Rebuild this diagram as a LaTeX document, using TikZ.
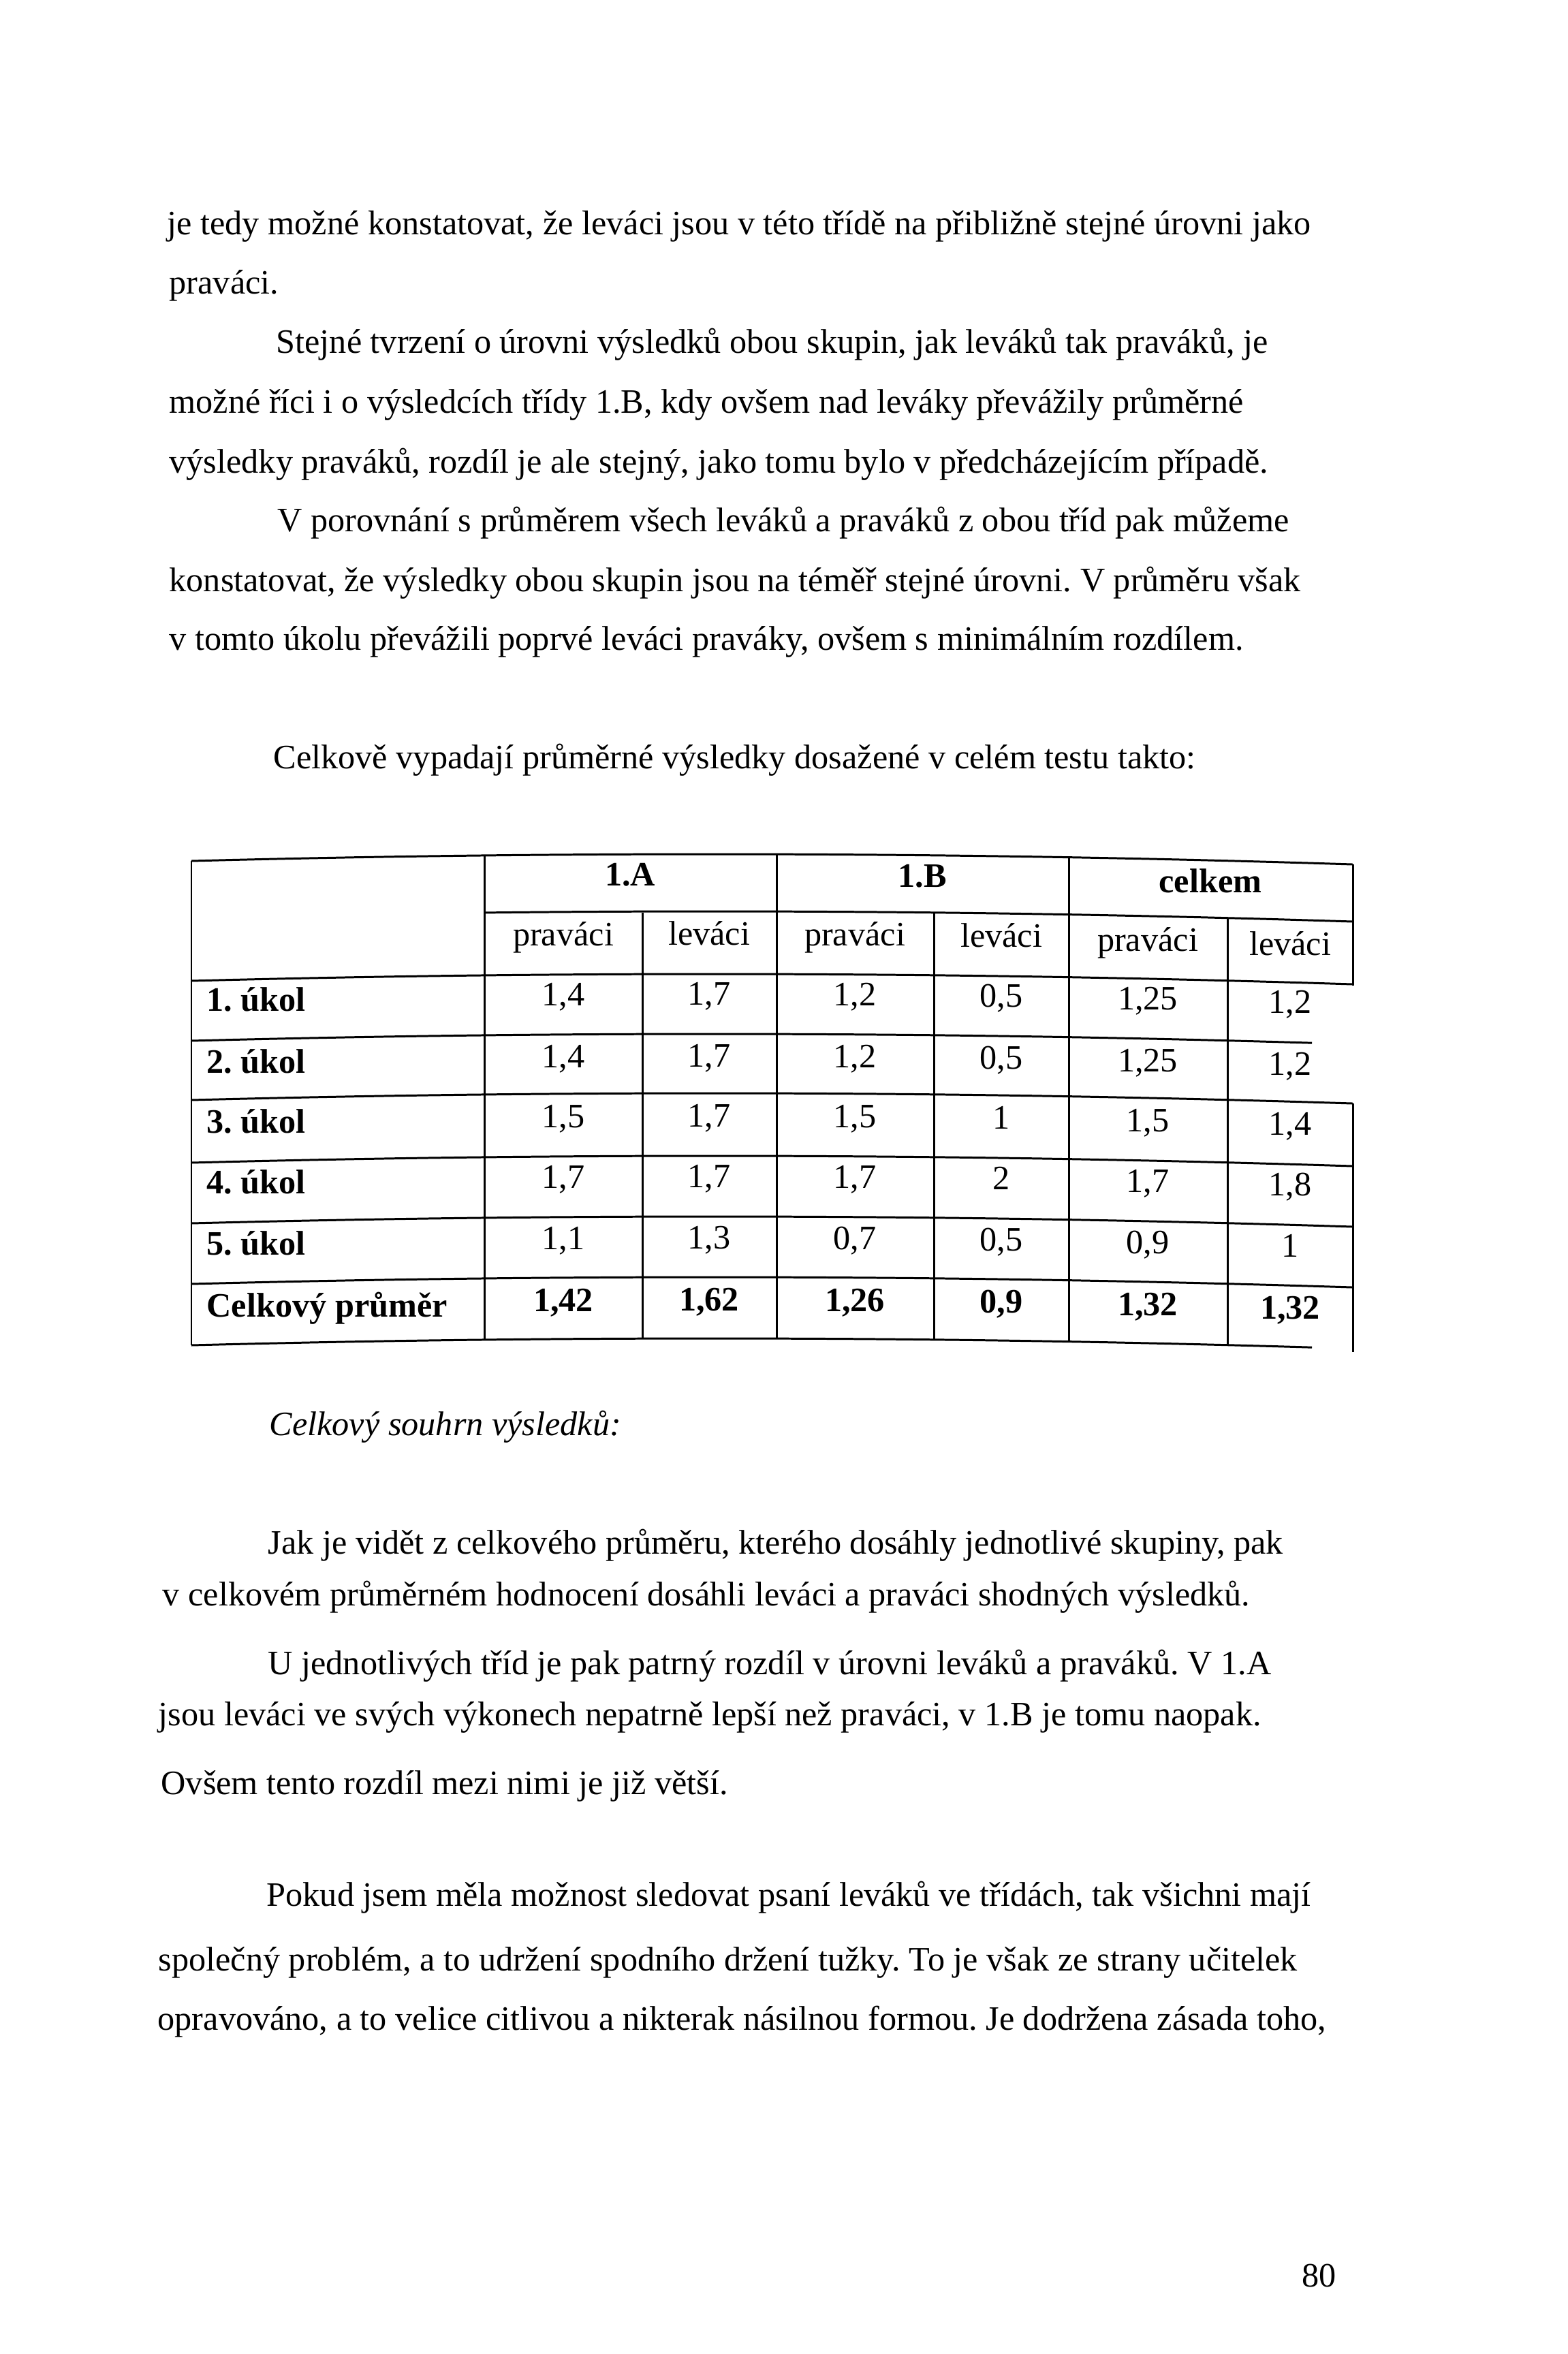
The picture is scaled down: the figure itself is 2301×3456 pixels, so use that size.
\documentclass[tikz,border=0pt]{standalone}
\usepackage{fontspec}
\setmainfont{Liberation Serif}
\frenchspacing
\def\bodyfont{\fontsize{14.3}{17}\selectfont}
\tikzset{
	txt/.style={anchor=base west, inner sep=0pt, font=\bodyfont},
	num/.style={anchor=base, inner sep=0pt, font=\bodyfont},
	bnum/.style={anchor=base, inner sep=0pt, font=\bodyfont\bfseries},
	blab/.style={anchor=base west, inner sep=0pt, font=\bodyfont\bfseries},
	tline/.style={line width=0.85pt}
}
\def\tabline(#1:#2:#3){\draw[tline] plot[domain=#1:#2,samples=30] (\x,{#3+10*((\x-1047)/766)^2});}

\begin{document}
\begin{tikzpicture}[x=0.1mm, y=-0.1mm]
			%%%%% START %%%%%
			
			\fill[white] (0, 0) rectangle (2301, 3456);
			\useasboundingbox (0, 0) rectangle (2301, 3456);
			
			\node[txt] (l1) at (245, 345) {je tedy možné konstatovat, že leváci jsou v této třídě na přibližně stejné úrovni jako};
			\node[txt] (l2) at (248, 432) {praváci.};
			\node[txt] (l3) at (405, 519) {Stejné tvrzení o úrovni výsledků obou skupin, jak leváků tak praváků, je};
			\node[txt] (l4) at (248, 607) {možné říci i o výsledcích třídy 1.B, kdy ovšem nad leváky převážily průměrné};
			\node[txt] (l5) at (248, 695) {výsledky praváků, rozdíl je ale stejný, jako tomu bylo v předcházejícím případě.};
			\node[txt] (l6) at (407, 781) {V porovnání s průměrem všech leváků a praváků z obou tříd pak můžeme};
			\node[txt] (l7) at (248, 868) {konstatovat, že výsledky obou skupin jsou na téměř stejné úrovni. V průměru však};
			\node[txt] (l8) at (248, 954) {v tomto úkolu převážili poprvé leváci praváky, ovšem s minimálním rozdílem.};
			
			\node[txt] (l9) at (401, 1128) {Celkově vypadají průměrné výsledky dosažené v celém testu takto:};
			
			% table rules
			\tabline(281:1986:1254);
			\tabline(711:1986:1338);
			\tabline(281:1986:1430);
			\tabline(281:1926:1518);
			\tabline(281:1986:1605);
			\tabline(281:1986:1697);
			\tabline(281:1986:1786);
			\tabline(281:1986:1875);
			\tabline(281:1926:1965);
			
			\draw[tline] (281, 1264) -- (281, 1975);
			\draw[tline] (711, 1256) -- (711, 1967);
			\draw[tline] (943, 1340) -- (943, 1965);
			\draw[tline] (1140, 1254) -- (1140, 1965);
			\draw[tline] (1371, 1340) -- (1371, 1967);
			\draw[tline] (1569, 1259) -- (1569, 1970);
			\draw[tline] (1802, 1348) -- (1802, 1975);
			\draw[tline] (1986, 1269) -- (1986, 1447);
			\draw[tline] (1986, 1620) -- (1986, 1985);
			
			% table head
			\node[bnum] (hA) at (925, 1300) {1.A};
			\node[bnum] (hB) at (1354, 1302) {1.B};
			\node[bnum] (hC) at (1777, 1310) {celkem};
			
			\node[num] (s1) at (827, 1388) {praváci};
			\node[num] (s2) at (1041, 1387) {leváci};
			\node[num] (s3) at (1255, 1388) {praváci};
			\node[num] (s4) at (1470, 1390) {leváci};
			\node[num] (s5) at (1685, 1396) {praváci};
			\node[num] (s6) at (1894, 1402) {leváci};
			
			% table body
			\node[blab] (r1) at (303, 1484) {1. úkol};
			\node[num] (r1a) at (827, 1476) {1,4};
			\node[num] (r1b) at (1041, 1475) {1,7};
			\node[num] (r1c) at (1255, 1476) {1,2};
			\node[num] (r1d) at (1470, 1478) {0,5};
			\node[num] (r1e) at (1685, 1482) {1,25};
			\node[num] (r1f) at (1894, 1487) {1,2};
			
			\node[blab] (r2) at (303, 1575) {2. úkol};
			\node[num] (r2a) at (827, 1567) {1,4};
			\node[num] (r2b) at (1041, 1566) {1,7};
			\node[num] (r2c) at (1255, 1567) {1,2};
			\node[num] (r2d) at (1470, 1569) {0,5};
			\node[num] (r2e) at (1685, 1573) {1,25};
			\node[num] (r2f) at (1894, 1578) {1,2};
			
			\node[blab] (r3) at (303, 1663) {3. úkol};
			\node[num] (r3a) at (827, 1655) {1,5};
			\node[num] (r3b) at (1041, 1654) {1,7};
			\node[num] (r3c) at (1255, 1655) {1,5};
			\node[num] (r3d) at (1470, 1657) {1};
			\node[num] (r3e) at (1685, 1661) {1,5};
			\node[num] (r3f) at (1894, 1666) {1,4};
			
			\node[blab] (r4) at (303, 1752) {4. úkol};
			\node[num] (r4a) at (827, 1744) {1,7};
			\node[num] (r4b) at (1041, 1743) {1,7};
			\node[num] (r4c) at (1255, 1744) {1,7};
			\node[num] (r4d) at (1470, 1746) {2};
			\node[num] (r4e) at (1685, 1750) {1,7};
			\node[num] (r4f) at (1894, 1755) {1,8};
			
			\node[blab] (r5) at (303, 1842) {5. úkol};
			\node[num] (r5a) at (827, 1834) {1,1};
			\node[num] (r5b) at (1041, 1833) {1,3};
			\node[num] (r5c) at (1255, 1834) {0,7};
			\node[num] (r5d) at (1470, 1836) {0,5};
			\node[num] (r5e) at (1685, 1840) {0,9};
			\node[num] (r5f) at (1894, 1845) {1};
			
			\node[blab] (r6) at (303, 1933) {Celkový průměr};
			\node[bnum] (r6a) at (827, 1925) {1,42};
			\node[bnum] (r6b) at (1041, 1924) {1,62};
			\node[bnum] (r6c) at (1255, 1925) {1,26};
			\node[bnum] (r6d) at (1470, 1927) {0,9};
			\node[bnum] (r6e) at (1685, 1931) {1,32};
			\node[bnum] (r6f) at (1894, 1936) {1,32};
			
			\node[txt, font=\bodyfont\itshape] (l10) at (395, 2107) {Celkový souhrn výsledků:};
			
			\node[txt] (l11) at (393, 2281) {Jak je vidět z celkového průměru, kterého dosáhly jednotlivé skupiny, pak};
			\node[txt] (l12) at (238, 2357) {v celkovém průměrném hodnocení dosáhli leváci a praváci shodných výsledků.};
			\node[txt] (l13) at (393, 2458) {U jednotlivých tříd je pak patrný rozdíl v úrovni leváků a praváků. V 1.A};
			\node[txt] (l14) at (232, 2533) {jsou leváci ve svých výkonech nepatrně lepší než praváci, v 1.B je tomu naopak.};
			\node[txt] (l15) at (236, 2634) {Ovšem tento rozdíl mezi nimi je již větší.};
			
			\node[txt] (l16) at (391, 2798) {Pokud jsem měla možnost sledovat psaní leváků ve třídách, tak všichni mají};
			\node[txt] (l17) at (232, 2893) {společný problém, a to udržení spodního držení tužky. To je však ze strany učitelek};
			\node[txt] (l18) at (231, 2980) {opravováno, a to velice citlivou a nikterak násilnou formou. Je dodržena zásada toho,};
			
			\node[txt, anchor=base east] (pg) at (1962, 3357) {80};
			
			%%%%% END %%%%%
\end{tikzpicture}
\end{document}
